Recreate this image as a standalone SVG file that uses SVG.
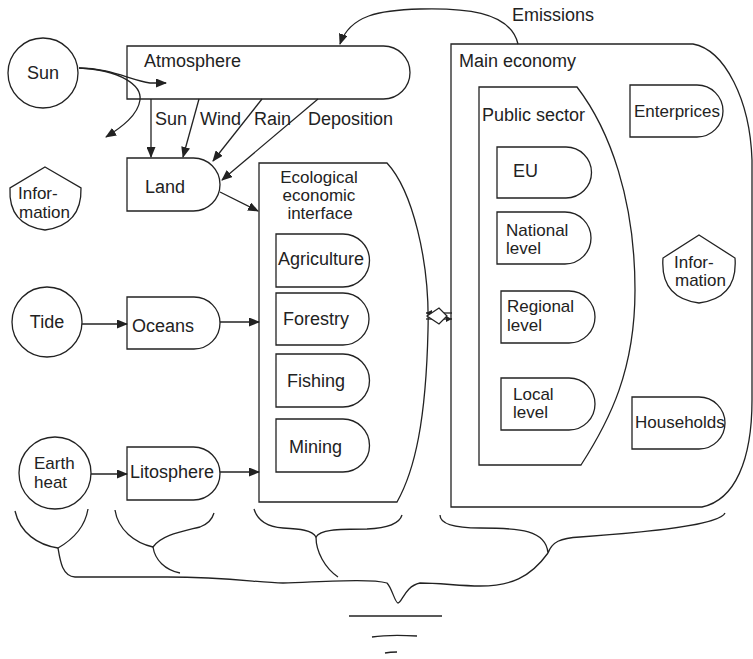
<svg xmlns="http://www.w3.org/2000/svg" width="753" height="659" viewBox="0 0 753 659">
<defs>
<style>
.s{fill:#fff;stroke:#222;stroke-width:1.3}
.l{fill:none;stroke:#222;stroke-width:1.3}
text{font-family:"Liberation Sans",Arial,sans-serif;font-size:18px;fill:#222}
.m{text-anchor:middle}
.t{font-size:17px}
</style>
<marker id="ah" markerUnits="userSpaceOnUse" markerWidth="11" markerHeight="9" refX="10" refY="4.5" orient="auto" viewBox="0 0 11 9">
<path d="M0,0 L11,4.5 L0,9 Z" fill="#222"/>
</marker>
<marker id="sa" markerUnits="userSpaceOnUse" markerWidth="6" markerHeight="6" refX="6" refY="3" orient="auto" viewBox="0 0 6 6">
<path d="M0,0 L6,3 L0,6 Z" fill="#222"/>
</marker>
</defs>

<g id="sun"><circle class="s" cx="43" cy="73" r="35"/><text class="m" x="43" y="79">Sun</text></g>
<g id="tide"><circle class="s" cx="47" cy="322" r="35"/><text class="m" x="47" y="328">Tide</text></g>
<g id="earth-heat"><circle class="s" cx="55" cy="473" r="36"/><text class="t" x="34" y="469">Earth</text><text class="t" x="34" y="488">heat</text></g>
<g id="information-left"><path class="s" d="M45,167 L81,188 Q82,225 45,230 Q8,225 10,188 Z"/><text class="t" x="18" y="199">Infor-</text><text class="t" x="19" y="218">mation</text></g>

<g id="atmosphere"><path class="s" d="M127,46 H383.5 A26.5,26.5 0 0 1 383.5,99 H127 Z"/><text x="144" y="67">Atmosphere</text></g>
<g id="land"><path class="s" d="M127,158 H193.5 A26.5,26.5 0 0 1 193.5,211 H127 Z"/><text x="145" y="193">Land</text></g>
<g id="oceans"><path class="s" d="M127,297 H194 A26,26 0 0 1 194,349 H127 Z"/><text x="132" y="332">Oceans</text></g>
<g id="litosphere"><path class="s" d="M127,447 H193.5 A26.5,26.5 0 0 1 193.5,500 H127 Z"/><text x="130" y="478">Litosphere</text></g>

<g id="eco-interface">
<path class="s" d="M259,163 H387 C412,190 430,260 428,330 C426,420 415,470 397,502 H259 Z"/>
<text class="m t" x="319" y="183">Ecological</text><text class="m t" x="319" y="201">economic</text><text class="m t" x="320" y="219">interface</text>
</g>
<g id="agriculture"><path class="s" d="M276,234 H343 A26.5,26.5 0 0 1 343,287 H276 Z"/><text x="278" y="265">Agriculture</text></g>
<g id="forestry"><path class="s" d="M276,293 H343 A26,26 0 0 1 343,345 H276 Z"/><text x="283" y="325">Forestry</text></g>
<g id="fishing"><path class="s" d="M276,354 H343 A26.5,26.5 0 0 1 343,407 H276 Z"/><text x="287" y="387">Fishing</text></g>
<g id="mining"><path class="s" d="M276,419 H343 A26.5,26.5 0 0 1 343,472 H276 Z"/><text x="289" y="453">Mining</text></g>

<g id="main-economy">
<path class="s" d="M451,44 H693 C725,50 750,100 752,160 L752,400 C752,460 735,500 702,507 H451 Z"/>
<text x="459" y="67">Main economy</text>
</g>
<g id="public-sector">
<path class="s" d="M479,87 H577 C610,130 635,200 635,290 C635,370 610,420 581,465 H479 Z"/>
<text x="482" y="121">Public sector</text>
</g>
<g id="eu"><path class="s" d="M497,147 H566 A25.5,25.5 0 0 1 566,198 H497 Z"/><text x="513" y="177">EU</text></g>
<g id="national"><path class="s" d="M497,212 H565 A26,26 0 0 1 565,264 H497 Z"/><text class="t" x="506" y="236">National</text><text class="t" x="506" y="254">level</text></g>
<g id="regional"><path class="s" d="M501,291 H569 A26,26 0 0 1 569,343 H501 Z"/><text class="t" x="507" y="312">Regional</text><text class="t" x="507" y="331">level</text></g>
<g id="local"><path class="s" d="M501,378 H569 A26,26 0 0 1 569,430 H501 Z"/><text class="t" x="513" y="400">Local</text><text class="t" x="513" y="418">level</text></g>
<g id="enterprices"><path class="s" d="M630,85 H697 A26,26 0 0 1 697,137 H630 Z"/><text x="634" y="117" style="font-size:17px">Enterprices</text></g>
<g id="households"><path class="s" d="M632,397 H699 A26,26 0 0 1 699,449 H632 Z"/><text x="635" y="428" style="font-size:17px">Households</text></g>
<g id="information-right"><path class="s" d="M699,235 L735,258 Q738,298 699,303 Q660,298 663,258 Z"/><text class="t" x="674" y="268">Infor-</text><text class="t" x="675" y="286">mation</text></g>

<g id="connectors">
<path class="l" d="M518,44 C510,10 460,8 420,9 C380,10 350,15 340,44" marker-end="url(#ah)"/>
<path class="l" d="M79,68 C110,68 130,80 150,83 L166,83" marker-end="url(#ah)"/>
<path class="l" d="M79,68 C120,70 142,85 140,100 C138,115 122,127 106,137" marker-end="url(#ah)"/>
<line class="l" x1="151" y1="99" x2="151" y2="157" marker-end="url(#ah)"/>
<line class="l" x1="199" y1="99" x2="183" y2="157" marker-end="url(#ah)"/>
<line class="l" x1="262" y1="99" x2="213" y2="161" marker-end="url(#ah)"/>
<line class="l" x1="318" y1="99" x2="222" y2="180" marker-end="url(#ah)"/>
<line class="l" x1="220" y1="192" x2="258" y2="211" marker-end="url(#ah)"/>
<line class="l" x1="82" y1="324" x2="127" y2="324" marker-end="url(#ah)"/>
<line class="l" x1="220" y1="322" x2="259" y2="322" marker-end="url(#ah)"/>
<line class="l" x1="91" y1="474" x2="127" y2="474" marker-end="url(#ah)"/>
<line class="l" x1="220" y1="472" x2="259" y2="472" marker-end="url(#ah)"/>
<line class="l" x1="452" y1="313" x2="426" y2="313" marker-end="url(#sa)"/>
<line class="l" x1="426" y1="319" x2="452" y2="319" marker-end="url(#sa)"/>
<path class="s" d="M427,316 L439,308 L447,316 L439,324 Z"/>
<text x="512" y="21">Emissions</text>
<text x="155" y="125">Sun</text>
<text x="200" y="125">Wind</text>
<text x="254" y="125">Rain</text>
<text x="308" y="125">Deposition</text>
</g>

<g id="braces">
<path class="l" d="M15,511 C20,533 38,545 58,548 C72,540 85,527 88,509"/>
<path class="l" d="M115,510 C118,530 135,543 153,547 C162,535 180,532 200,527 C208,524 212,520 214,513"/>
<path class="l" d="M153,547 C155,560 165,570 180,573"/>
<path class="l" d="M254,509 C258,522 268,527 283,528 C300,529 312,530 316,537 C320,530 335,529 367,529 C390,528 400,522 402,515"/>
<path class="l" d="M316,537 C316,552 325,568 338,577"/>
<path class="l" d="M440,515 C440,524 455,528 480,528 C520,528 546,530 548,553 C552,542 560,538 580,537 C650,532 720,525 725,513"/>
<path class="l" d="M58,548 C60,560 62,576 75,577 L167,577 C230,577 260,583 283,583 C320,582 370,578 387,583 C392,588 395,603 398,603 C402,603 405,586 420,583 C440,583 460,586 480,586 C510,586 530,578 548,553"/>
<line class="l" x1="349" y1="616" x2="442" y2="616"/>
<path class="l" d="M372,637 C385,635 400,635 417,636"/>
<path class="l" d="M385,653 C390,652 394,652 397,652"/>
</g>
</svg>
